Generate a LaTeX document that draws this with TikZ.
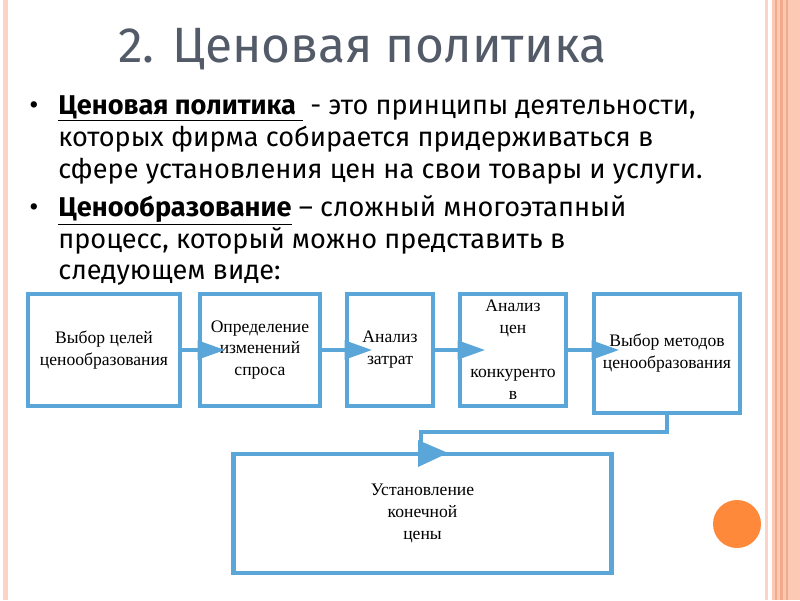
\documentclass[tikz,border=0pt]{standalone}
\usepackage{fontspec}
\setmainfont{Liberation Serif}
\newfontfamily\slidefont{Fira Sans}
\usepackage{xcolor}
\definecolor{boxblue}{RGB}{91,166,216}
\definecolor{titlegray}{RGB}{84,91,104}
\definecolor{edgepale}{RGB}{251,212,198}
\definecolor{edgesalmon}{RGB}{252,201,180}
\definecolor{edgedark}{RGB}{243,170,140}
\definecolor{dotorange}{RGB}{255,137,58}
\usetikzlibrary{arrows.meta, positioning}

\begin{document}
\begin{tikzpicture}[x=0.025cm, y=-0.025cm,
  stepbox/.style={rectangle, draw=boxblue, line width=3.5pt, inner sep=0pt,
                  align=center, font=\fontsize{12.5}{15.6}\selectfont},
  flow/.style={draw=boxblue, line width=3.5pt, -{Triangle[length=0.7cm, width=0.45cm]}},
  link/.style={draw=boxblue, line width=3.5pt},
  bline/.style={anchor=base west, inner sep=0pt, font=\slidefont\fontsize{19.3}{23}\selectfont},
  bdot/.style={anchor=base, inner sep=0pt, font=\slidefont\fontsize{20}{24}\selectfont}
]
\useasboundingbox (0,0) rectangle (800,600);
\fill[white] (0,0) rectangle (800,600);

% slide frame
\fill[edgepale] (3,0) rectangle (8,600);
\fill[edgepale] (765,0) rectangle (768,600);
\fill[edgesalmon] (772,0) rectangle (800,600);
\fill[edgedark] (775,0) rectangle (777,600);
\fill[edgedark] (780,0) rectangle (782.5,600);
\fill[edgedark] (786,0) rectangle (787.5,600);
\fill[dotorange] (737,524) circle[radius=0.6cm];

% title
\node[anchor=base west, inner sep=0pt, text=titlegray,
      font=\slidefont\fontsize{35.3}{40}\selectfont] (title) at (118,62) {2. Ценовая политика};

% bullets
\node[bdot] (d1) at (34,114) {•};
\node[bline] (l1) at (58,114) {\underline{\textbf{Ценовая политика}\ } - это принципы деятельности,};
\node[bline] (l2) at (58,146) {которых фирма собирается придерживаться в};
\node[bline] (l3) at (58,178) {сфере установления цен на свои товары и услуги.};
\node[bdot] (d2) at (34,216) {•};
\node[bline] (l4) at (58,216) {\underline{\textbf{Ценообразование}} – сложный многоэтапный};
\node[bline] (l5) at (58,248) {процесс, который можно представить в};
\node[bline] (l6) at (58,279) {следующем виде:};

% flow boxes
\node[stepbox, minimum width=3.8cm, minimum height=2.8cm] (b1) at (104,350) {Выбор целей\\ценообразования};
\node[stepbox, minimum width=3.0cm, minimum height=2.8cm] (b2) at (260,350) {Определение\\изменений\\спроса};
\node[stepbox, minimum width=2.15cm, minimum height=2.8cm] (b3) at (390,350) {Анализ\\затрат};
\node[stepbox, minimum width=2.65cm, minimum height=2.8cm] (b4) at (513,350) {Анализ\\цен\\\mbox{}\\конкуренто\\в};
\node[stepbox, minimum width=3.65cm, minimum height=2.975cm] (b5) at (667,353.5) {Выбор методов\\ценообразования};
\node[stepbox, minimum width=9.425cm, minimum height=2.975cm] (b6) at (422.5,513.5) {Установление\\конечной\\цены};

% connectors
\draw[flow] (b1.east) -- ([xshift=0.7cm]b2.west);
\draw[flow] (b2.east) -- ([xshift=0.7cm]b3.west);
\draw[flow] (b3.east) -- ([xshift=0.7cm]b4.west);
\coordinate (e5) at (b5.west |- b4.east);
\draw[flow] (b4.east) -- ([xshift=0.7cm]e5);
\coordinate (turn) at (421,432);
\draw[link] (b5.south) |- (turn) -- (turn |- b6.north);
\fill[boxblue] (418,440) -- (448,453) -- (418,467) -- cycle;
\end{tikzpicture}
\end{document}
